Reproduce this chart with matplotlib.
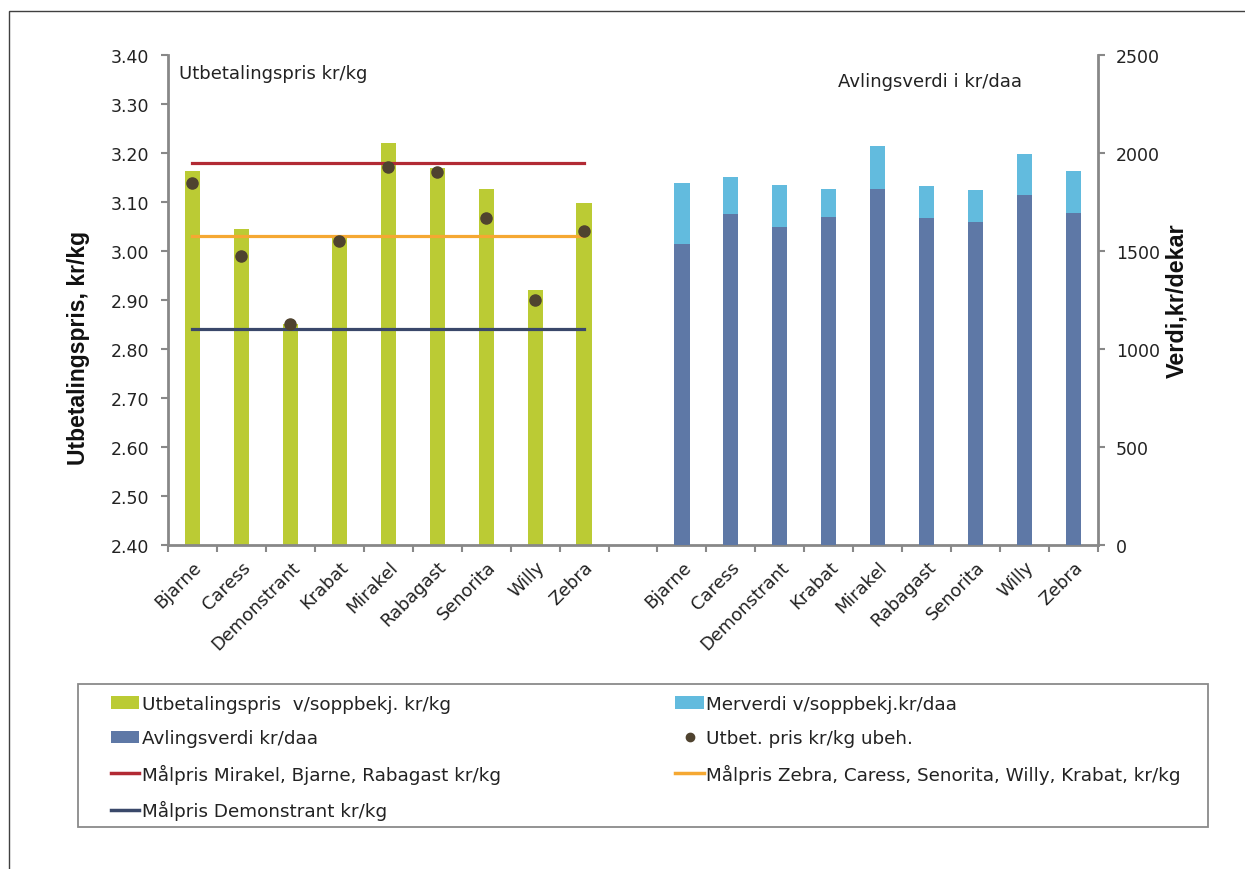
import matplotlib
matplotlib.use("Agg")
import matplotlib.pyplot as plt
from matplotlib.patches import Rectangle, Patch
from matplotlib.lines import Line2D

categories = ["Bjarne", "Caress", "Demonstrant", "Krabat", "Mirakel",
              "Rabagast", "Senorita", "Willy", "Zebra"]
utbet_soppbekj = [3.163, 3.044, 2.851, 3.031, 3.220, 3.169, 3.127, 2.920, 3.098]
utbet_ubeh = [3.139, 2.989, 2.851, 3.021, 3.171, 3.161, 3.068, 2.901, 3.040]
avlingsverdi = [1537, 1690, 1622, 1675, 1818, 1670, 1648, 1784, 1696]
merverdi = [312, 186, 215, 140, 219, 162, 162, 209, 214]
malpris_mirakel = 3.18
malpris_zebra = 3.03
malpris_demo = 2.84

left_ticks = [2.40, 2.50, 2.60, 2.70, 2.80, 2.90, 3.00, 3.10, 3.20, 3.30, 3.40]
right_ticks = [0, 500, 1000, 1500, 2000, 2500]

c_green = "#BBCB34"
c_light = "#62BBDE"
c_dark = "#5E78A6"
c_dot = "#4F432F"
c_red = "#B22A34"
c_orange = "#F5A832"
c_navy = "#3A486A"
c_axis = "#888888"

plt.rcParams["font.family"] = ["DejaVu Sans"]

W, H = 1245, 870
fig = plt.figure(figsize=(W / 100, H / 100), dpi=100)

def fx(px):
    return px / W

def fy(py):
    return 1 - py / H

ax = fig.add_axes([fx(168), fy(546), fx(1098) - fx(168), fy(56) - fy(546)])
ax2 = ax.twinx()

n = len(categories)
xl = list(range(n))
xr = [n + 1 + i for i in range(n)]
bw = 0.31

ax.bar(xl, utbet_soppbekj, width=bw, color=c_green, zorder=2)
ax.plot([xl[0], xl[-1]], [malpris_mirakel] * 2, color=c_red, lw=2.3, zorder=3)
ax.plot([xl[0], xl[-1]], [malpris_zebra] * 2, color=c_orange, lw=2.3, zorder=3)
ax.plot([xl[0], xl[-1]], [malpris_demo] * 2, color=c_navy, lw=2.3, zorder=3)
ax.plot(xl, utbet_ubeh, linestyle="none", marker="o", markersize=8,
        color=c_dot, zorder=4)

ax2.bar(xr, avlingsverdi, width=bw, color=c_dark)
ax2.bar(xr, merverdi, width=bw, bottom=avlingsverdi, color=c_light)

ax.set_xlim(-0.5, 2 * n + 0.5)
ax.set_ylim(2.40, 3.40)
ax2.set_ylim(0, 2500)

ax.set_yticks(left_ticks)
ax.set_yticklabels([f"{v:.2f}" for v in left_ticks])
ax2.set_yticks(right_ticks)
ax2.set_yticklabels([str(v) for v in right_ticks])

all_pos = xl + [n] + xr
all_lab = categories + [""] + categories
ax.set_xticks(all_pos)
ax.set_xticklabels(all_lab, rotation=45, ha="right", rotation_mode="anchor",
                   fontsize=12.8, color="#222222")
ax.set_xticks([i - 0.5 for i in range(2 * n + 2)], minor=True)
ax.tick_params(axis="x", which="major", length=0, pad=9)
ax.tick_params(axis="x", which="minor", length=5, width=1.5, color=c_axis,
               direction="out")
ax.tick_params(axis="y", length=5, width=1.5, color=c_axis, pad=8.5,
               labelsize=12.5, labelcolor="#222222")
ax2.tick_params(axis="y", length=5, width=1.5, color=c_axis, pad=8,
                labelsize=12.5, labelcolor="#222222")

for a in (ax, ax2):
    a.spines["top"].set_visible(False)
    for s in ("left", "right", "bottom"):
        a.spines[s].set_color(c_axis)
        a.spines[s].set_linewidth(2)
ax.spines["right"].set_visible(False)
ax2.spines["left"].set_visible(False)
ax2.spines["bottom"].set_visible(False)

fig.text(fx(179), fy(74), "Utbetalingspris kr/kg", fontsize=13,
         ha="left", va="center", color="#222222")
fig.text(fx(838), fy(82), "Avlingsverdi i kr/daa", fontsize=13,
         ha="left", va="center", color="#222222")

fig.text(fx(79), fy(348), "Utbetalingspris, kr/kg", rotation=90,
         fontsize=16.5, fontweight="bold", family=["Liberation Sans", "DejaVu Sans"],
         ha="center", va="center", color="#111111")
fig.text(fx(1177), fy(301), "Verdi,kr/dekar", rotation=90,
         fontsize=16.8, fontweight="bold", family=["Liberation Sans", "DejaVu Sans"],
         ha="center", va="center", color="#111111")

handles = [
    Patch(facecolor=c_green),
    Patch(facecolor=c_dark),
    Line2D([], [], color=c_red, lw=2.5),
    Line2D([], [], color=c_navy, lw=2.5),
    Patch(facecolor=c_light),
    Line2D([], [], color=c_dot, marker="o", linestyle="none", markersize=6),
    Line2D([], [], color=c_orange, lw=2.5),
]
labels = [
    "Utbetalingspris  v/soppbekj. kr/kg",
    "Avlingsverdi kr/daa",
    "Målpris Mirakel, Bjarne, Rabagast kr/kg",
    "Målpris Demonstrant kr/kg",
    "Merverdi v/soppbekj.kr/daa",
    "Utbet. pris kr/kg ubeh.",
    "Målpris Zebra, Caress, Senorita, Willy, Krabat, kr/kg",
]
leg = fig.legend(handles, labels, ncol=2, mode="expand",
                 bbox_to_anchor=(fx(111), fy(900), fx(1181) - fx(111), fy(696) - fy(900)),
                 loc="upper left", fontsize=13.2, frameon=False,
                 handlelength=1.55, handleheight=0.65,
                 handletextpad=0.15, labelspacing=0.89, borderpad=0,
                 borderaxespad=0)
for t in leg.get_texts():
    t.set_color("#222222")

frame = Rectangle((fx(78), fy(828)), fx(1208) - fx(78), fy(685) - fy(828),
                  transform=fig.transFigure, fill=False, edgecolor="#8a8a8a", lw=1.3)
fig.add_artist(frame)

border = Rectangle((fx(9), fy(900)), 1.2, fy(12) - fy(900), transform=fig.transFigure,
                   fill=False, edgecolor="#404040", lw=1.0)
fig.add_artist(border)

fig.savefig("out.png", dpi=100)
